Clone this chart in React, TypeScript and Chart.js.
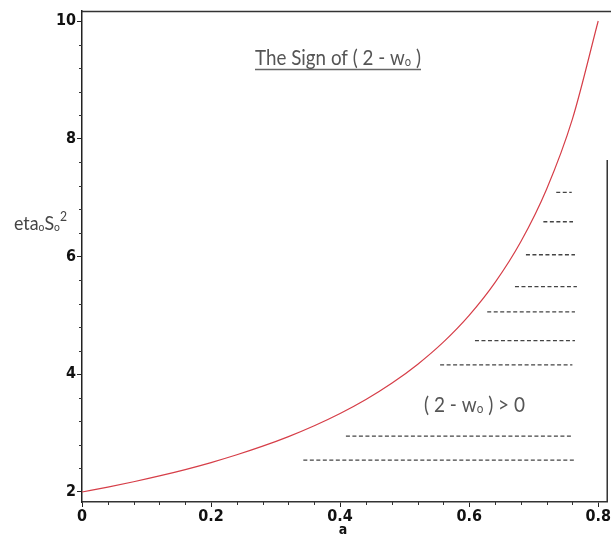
import React, { useEffect, useRef } from "react";
import { Chart, registerables } from "chart.js";
Chart.register(...registerables);

// ---- data ----
const aValues = [0, 0.04, 0.08, 0.12, 0.16, 0.2, 0.24, 0.28, 0.32, 0.36, 0.4, 0.44, 0.48, 0.52, 0.56, 0.6, 0.64, 0.68, 0.72, 0.76, 0.8];
const etaValues = [2.0, 2.083, 2.174, 2.273, 2.381, 2.5, 2.632, 2.778, 2.941, 3.125, 3.333, 3.571, 3.846, 4.167, 4.545, 5.0, 5.556, 6.25, 7.143, 8.333, 10.0];

const hatchLevels = [7.09, 6.59, 6.03, 5.49, 5.06, 4.57, 4.16, 2.95, 2.54];
const hatchStarts = [0.735, 0.715, 0.688, 0.671, 0.628, 0.609, 0.555, 0.409, 0.343];
const hatchEnds = [0.759, 0.761, 0.764, 0.767, 0.764, 0.764, 0.76, 0.76, 0.763];

const xTickLabels = ["0", "0.2", "0.4", "0.6", "0.8"];
const yTickLabels = ["2", "4", "6", "8", "10"];
const xMinorTicks = [0, 0.04, 0.08, 0.12, 0.16, 0.2, 0.24, 0.28, 0.32, 0.36, 0.4, 0.44, 0.48, 0.52, 0.56, 0.6, 0.64, 0.68, 0.72, 0.76, 0.8];
const yMinorTicks = [2, 2.4, 2.8, 3.2, 3.6, 4, 4.4, 4.8, 5.2, 5.6, 6, 6.4, 6.8, 7.2, 7.6, 8, 8.4, 8.8, 9.2, 9.6, 10];

const titleText = "The Sign of ( 2 - w";
const regionText = "( 2 - w";
const axisXTitle = "a";

const TICK_FONT = "'Liberation Sans Narrow', 'DejaVu Sans Condensed', 'Arial Narrow', sans-serif";
const TEXT_FONT = "Lato, 'Open Sans', sans-serif";

const isXMajor = (v: number) => Math.abs(v / 0.2 - Math.round(v / 0.2)) < 1e-6;
const isYMajor = (v: number) => Math.abs(v / 2 - Math.round(v / 2)) < 1e-6;

type Run = { t: string; k: "n" | "sub" | "sup" };

function drawRich(ctx: CanvasRenderingContext2D, runs: Run[], x: number, baseline: number, size: number, targetWidth: number, color: string) {
  const fontFor = (k: string) => `${k === "n" ? size : Math.round(size * (k === "sup" ? 0.7 : 0.6))}px ${TEXT_FONT}`;
  let total = 0;
  for (const r of runs) {
    ctx.font = fontFor(r.k);
    total += ctx.measureText(r.t).width;
  }
  const sx = targetWidth / total;
  ctx.save();
  ctx.translate(x, baseline);
  ctx.scale(sx, 1);
  ctx.fillStyle = color;
  ctx.textBaseline = "alphabetic";
  ctx.textAlign = "left";
  let cx = 0;
  for (const r of runs) {
    ctx.font = fontFor(r.k);
    const dy = r.k === "sub" ? size * 0.05 : r.k === "sup" ? -size * 0.5 : 0;
    ctx.fillText(r.t, cx, dy);
    cx += ctx.measureText(r.t).width;
  }
  ctx.restore();
}

const annotPlugin = {
  id: "annot",
  afterDraw(chart: any) {
    const ctx: CanvasRenderingContext2D = chart.ctx;
    const { left, right, top, bottom } = chart.chartArea;
    const xs = chart.scales.x;
    const ys = chart.scales.y;
    ctx.save();
    // minor ticks
    ctx.strokeStyle = "#333";
    ctx.lineWidth = 1;
    ctx.beginPath();
    xMinorTicks.forEach((v) => {
      if (isXMajor(v)) return;
      const px = Math.round(xs.getPixelForValue(v)) + 0.5;
      ctx.moveTo(px, bottom);
      ctx.lineTo(px, bottom + 3);
    });
    yMinorTicks.forEach((v) => {
      if (isYMajor(v)) return;
      const py = Math.round(ys.getPixelForValue(v)) + 0.5;
      ctx.moveTo(left, py);
      ctx.lineTo(left - 3, py);
    });
    ctx.stroke();

    // frame pieces
    ctx.strokeStyle = "#333";
    ctx.lineWidth = 1.5;
    ctx.beginPath();
    ctx.moveTo(left, top + 0.5);
    ctx.lineTo(chart.width, top + 0.5);
    ctx.moveTo(right, 160);
    ctx.lineTo(right, bottom);
    ctx.stroke();

    // title
    drawRich(ctx, [{ t: titleText, k: "n" }, { t: "o", k: "sub" }, { t: " )", k: "n" }], 255, 65, 22, 166, "#555");
    ctx.strokeStyle = "#666";
    ctx.lineWidth = 1.5;
    ctx.beginPath();
    ctx.moveTo(255, 69.5);
    ctx.lineTo(421, 69.5);
    ctx.stroke();

    // region label
    drawRich(ctx, [{ t: regionText, k: "n" }, { t: "o", k: "sub" }, { t: " ) > 0", k: "n" }], 424, 412, 21, 101, "#555");

    // y label
    drawRich(ctx, [{ t: "eta", k: "n" }, { t: "o", k: "sub" }, { t: "S", k: "n" }, { t: "o", k: "sub" }, { t: "2", k: "sup" }], 14, 230, 19, 53, "#444");

    // x title
    ctx.fillStyle = "#111";
    ctx.font = `bold 14px ${TICK_FONT}`;
    ctx.textAlign = "center";
    ctx.textBaseline = "alphabetic";
    ctx.fillText(axisXTitle, 343, 534);
    ctx.restore();
  },
};

export default function App() {
  const ref = useRef<HTMLCanvasElement | null>(null);
  useEffect(() => {
    if (!ref.current) return;
    const hatchSets = hatchLevels.map((lv, i) => ({
      data: [
        { x: hatchStarts[i], y: lv },
        { x: hatchEnds[i], y: lv },
      ],
      borderColor: "#444",
      borderWidth: 1.3,
      borderDash: [4, 2.5],
      pointRadius: 0,
      fill: false,
    }));
    const chart = new Chart(ref.current, {
      type: "line",
      data: {
        datasets: [
          {
            data: aValues.map((a, i) => ({ x: a, y: etaValues[i] })),
            borderColor: "rgb(214, 62, 72)",
            borderWidth: 1.2,
            pointRadius: 0,
            cubicInterpolationMode: "monotone",
            fill: false,
          },
          ...hatchSets,
        ] as any,
      },
      options: {
        animation: false,
        responsive: true,
        maintainAspectRatio: false,
        layout: { padding: { top: 11, right: 3, left: 0, bottom: 0 } },
        plugins: { legend: { display: false }, tooltip: { enabled: false }, title: { display: false } },
        scales: {
          x: {
            type: "linear",
            min: 0,
            max: 0.814,
            afterBuildTicks: (s: any) => {
              s.ticks = xMinorTicks.map((v) => ({ value: v }));
            },
            afterFit: (s: any) => {
              s.height = 33;
            },
            border: { display: true, color: "#333", width: 1.5 },
            grid: {
              drawOnChartArea: false,
              drawTicks: true,
              tickLength: 5,
              tickColor: (c: any) => (c.tick && isXMajor(c.tick.value) ? "#222" : "rgba(0,0,0,0)"),
            },
            ticks: {
              autoSkip: false,
              maxRotation: 0,
              padding: 0,
              color: "#111",
              font: { family: TICK_FONT, size: 16, weight: "bold" },
              callback: (v: any) => (isXMajor(Number(v)) ? xTickLabels[Math.round(Number(v) / 0.2)] : ""),
            },
          },
          y: {
            type: "linear",
            min: 1.83,
            max: 10.17,
            afterBuildTicks: (s: any) => {
              s.ticks = yMinorTicks.map((v) => ({ value: v }));
            },
            afterFit: (s: any) => {
              s.width = 82;
            },
            border: { display: true, color: "#222", width: 1.5 },
            grid: {
              drawOnChartArea: false,
              drawTicks: true,
              tickLength: 5,
              tickColor: (c: any) => (c.tick && isYMajor(c.tick.value) ? "#222" : "rgba(0,0,0,0)"),
            },
            ticks: {
              autoSkip: false,
              padding: 1,
              color: "#111",
              font: { family: TICK_FONT, size: 16, weight: "bold" },
              callback: (v: any) => (isYMajor(Number(v)) ? yTickLabels[Math.round((Number(v) - 2) / 2)] : ""),
            },
          },
        },
      },
      plugins: [annotPlugin],
    });
    return () => chart.destroy();
  }, []);
  return (
    <div style={{ position: "fixed", left: 0, top: 0, width: 611, height: 535, background: "#fff" }}>
      <canvas ref={ref} />
    </div>
  );
}
